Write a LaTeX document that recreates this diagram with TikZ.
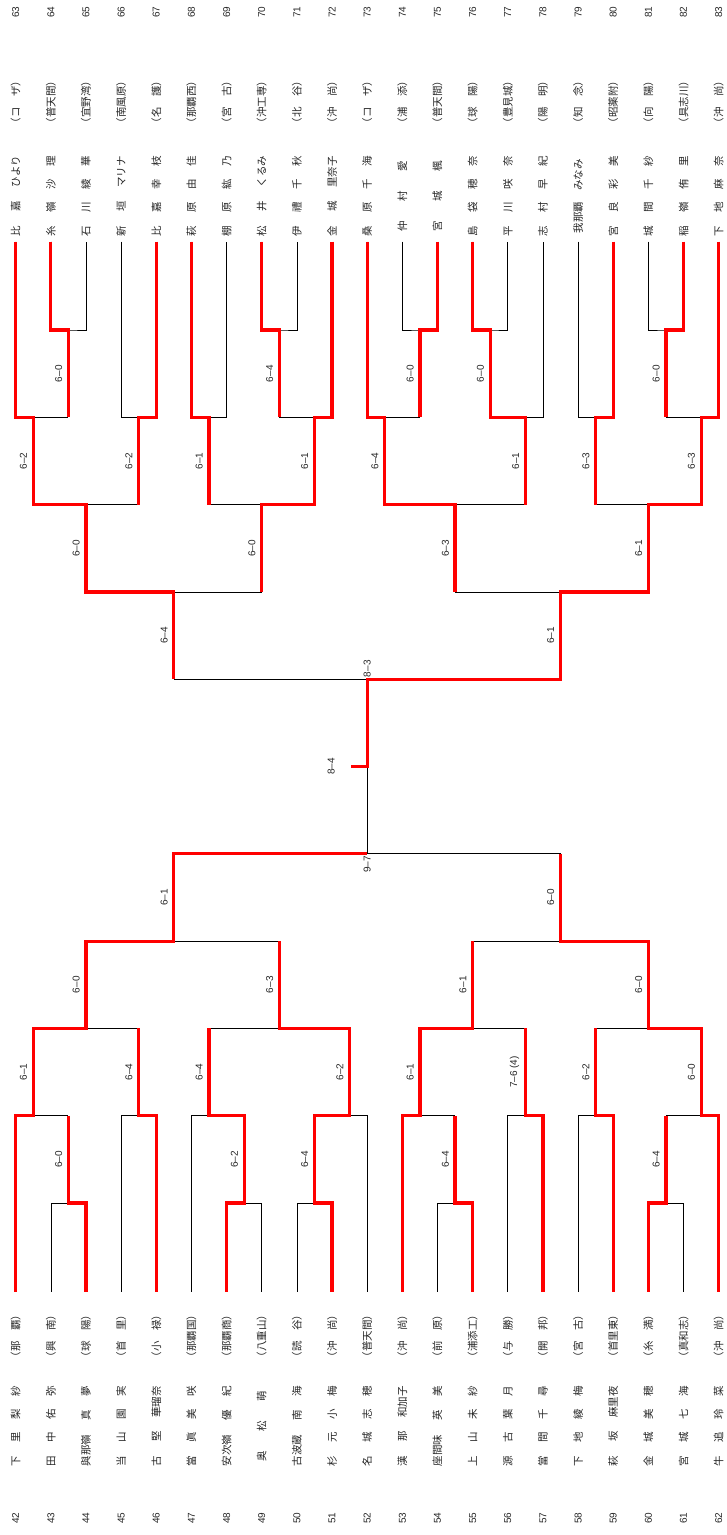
\documentclass[tikz,border=0pt]{standalone}
\usepackage{fontspec}
\setmainfont{Liberation Sans}
\newfontfamily\jp{Noto Sans CJK JP}

\newcommand\pname[1]{\makebox[80pt][s]{#1}}

\begin{document}
\begin{tikzpicture}[
  x=1pt, y=-1pt,
  every node/.style={text=black!85},
  num/.style={rotate=90, inner sep=0pt, font=\fontsize{10}{12}\selectfont},
  school/.style={rotate=90, inner sep=0pt, font=\jp\fontsize{10.5}{12}\selectfont},
  player/.style={school},
  score/.style={rotate=90, anchor=south, inner xsep=1pt, inner ysep=4.6pt, font=\fontsize{10}{12}\selectfont, text=black!85},
  bracket/.style={line width=0.7pt},
  winner/.style={line width=3.2pt, red}
]
\useasboundingbox (0,0) rectangle (726,1535);

\foreach \n/\nm/\sc [count=\i from 0] in {
  63/{比\hfil 嘉\hfil ひより}/{コ　ザ},
  64/{糸\hfil 嶺\hfil 沙\hfil 理}/{普天間},
  65/{石\hfil 川\hfil 綾\hfil 華}/{宜野湾},
  66/{新\hfil 垣\hfil マリナ}/{南風原},
  67/{比\hfil 嘉\hfil 幸\hfil 枝}/{名　護},
  68/{萩\hfil 原\hfil 由\hfil 佳}/{那覇西},
  69/{棚\hfil 原\hfil 紘\hfil 乃}/{宮　古},
  70/{松\hfil 井\hfil くるみ}/{沖工専},
  71/{伊\hfil 禮\hfil 千\hfil 秋}/{北　谷},
  72/{金\hfil 城\hfil 里奈子}/{沖　尚},
  73/{桑\hfil 原\hfil 千\hfil 海}/{コ　ザ},
  74/{\hspace{5pt}仲\hfil 村\hfil 愛\hspace{5pt}}/{浦　添},
  75/{\hspace{5pt}宮\hfil 城\hfil 楓\hspace{5pt}}/{普天間},
  76/{島\hfil 袋\hfil 穂\hfil 奈}/{球　陽},
  77/{平\hfil 川\hfil 咲\hfil 奈}/{豊見城},
  78/{志\hfil 村\hfil 早\hfil 紀}/{陽　明},
  79/{\hspace{3pt}我那覇\hfil みなみ\hspace{3pt}}/{知　念},
  80/{宮\hfil 良\hfil 彩\hfil 美}/{昭薬附},
  81/{城\hfil 間\hfil 千\hfil 紗}/{向　陽},
  82/{稲\hfil 嶺\hfil 侑\hfil 里}/{具志川},
  83/{下\hfil 地\hfil 麻\hfil 奈}/{沖　尚}}{
  \pgfmathsetmacro\xx{15.7+35.15*\i}
  \node[num] (n\n) at (\xx,12) {\n};
  \node[school] (s\n) at (\xx,102) {（\sc）};
  \node[player] (p\n) at (\xx,196) {\pname{\nm}};
  \coordinate (e\n) at (\xx,241.7);
}

\foreach \n/\nm/\sc [count=\i from 0] in {
  42/{下\hfil 里\hfil 梨\hfil 紗}/{那　覇},
  43/{田\hfil 中\hfil 佑\hfil 弥}/{興　南},
  44/{與那嶺\hfil 真\hfil 夢}/{球　陽},
  45/{当\hfil 山\hfil 園\hfil 実}/{首　里},
  46/{古\hfil 堅\hfil 華瑠奈}/{小　禄},
  47/{當\hfil 眞\hfil 美\hfil 咲}/{那覇国},
  48/{安次嶺\hfil 優\hfil 紀}/{那覇商},
  49/{\hspace{5pt}奥\hfil 松\hfil 萌\hspace{5pt}}/{八重山},
  50/{古波蔵\hfil 南\hfil 海}/{読　谷},
  51/{杉\hfil 元\hfil 小\hfil 梅}/{沖　尚},
  52/{名\hfil 城\hfil 志\hfil 穂}/{普天間},
  53/{漢\hfil 那\hfil 和加子}/{沖　尚},
  54/{座間味\hfil 英\hfil 美}/{前　原},
  55/{上\hfil 山\hfil 未\hfil 紗}/{浦添工},
  56/{源\hfil 古\hfil 葉\hfil 月}/{与　勝},
  57/{當\hfil 間\hfil 千\hfil 尋}/{開　邦},
  58/{下\hfil 地\hfil 綾\hfil 梅}/{宮　古},
  59/{萩\hfil 坂\hfil 麻里夜}/{首里東},
  60/{金\hfil 城\hfil 美\hfil 穂}/{糸　満},
  61/{宮\hfil 城\hfil 七\hfil 海}/{真和志},
  62/{牛\hfil 追\hfil 玲\hfil 菜}/{沖　尚}}{
  \pgfmathsetmacro\xx{15.7+35.15*\i}
  \node[school] (s\n) at (\xx,1336) {（\sc）};
  \node[player] (p\n) at (\xx,1426) {\pname{\nm}};
  \node[num] (n\n) at (\xx,1518) {\n};
  \coordinate (e\n) at (\xx,1291.7);
}

\foreach \m/\h/\k in {t1/1.5/0, t2/7.5/0, t3/11.5/0, t4/13.5/0, t5/18.5/0,
  t6/0.5/1, t7/3.5/1, t8/5.5/1, t9/8.5/1, t10/10.5/1, t11/14.5/1, t12/16.5/1, t13/19.5/1,
  t14/2/2, t15/7/2, t16/12.5/2, t17/18/2, t18/4.5/3, t19/15.5/3, t20/10/4}{
  \coordinate (\m) at ({15.7+35.15*\h},{330+87.3*\k});
  \coordinate (\m o) at ({15.7+35.15*\h},{417.3+87.3*\k});
}
\foreach \m/\h/\k in {b1/1.5/0, b2/6.5/0, b3/8.5/0, b4/12.5/0, b5/18.5/0,
  b6/0.5/1, b7/3.5/1, b8/5.5/1, b9/9.5/1, b10/11.5/1, b11/14.5/1, b12/16.5/1, b13/19.5/1,
  b14/2/2, b15/7.5/2, b16/13/2, b17/18/2, b18/4.5/3, b19/15.5/3, b20/10/4}{
  \coordinate (\m) at ({15.7+35.15*\h},{1203-87.3*\k});
  \coordinate (\m o) at ({15.7+35.15*\h},{1115.7-87.3*\k});
}
\coordinate (tick) at (350.5,766.5);

\draw[bracket] (e64) |- (t1) -| (e65);
\draw[bracket] (e70) |- (t2) -| (e71);
\draw[bracket] (e74) |- (t3) -| (e75);
\draw[bracket] (e76) |- (t4) -| (e77);
\draw[bracket] (e81) |- (t5) -| (e82);
\draw[bracket] (e63) |- (t6) -| (t1o);
\draw[bracket] (e66) |- (t7) -| (e67);
\draw[bracket] (e68) |- (t8) -| (e69);
\draw[bracket] (t2o) -- (t9) -| (e72);
\draw[bracket] (e73) |- (t10) -| (t3o);
\draw[bracket] (t4o) -- (t11) -| (e78);
\draw[bracket] (e79) |- (t12) -| (e80);
\draw[bracket] (t5o) -- (t13) -| (e83);
\draw[bracket] (t6o) -- (t7o);
\draw[bracket] (t8o) -- (t9o);
\draw[bracket] (t10o) -- (t11o);
\draw[bracket] (t12o) -- (t13o);
\draw[bracket] (t14o) -- (t15o);
\draw[bracket] (t16o) -- (t17o);
\draw[bracket] (t18o) -- (t19o);

\draw[bracket] (e43) |- (b1) -| (e44);
\draw[bracket] (e48) |- (b2) -| (e49);
\draw[bracket] (e50) |- (b3) -| (e51);
\draw[bracket] (e54) |- (b4) -| (e55);
\draw[bracket] (e60) |- (b5) -| (e61);
\draw[bracket] (e42) |- (b6) -| (b1o);
\draw[bracket] (e45) |- (b7) -| (e46);
\draw[bracket] (e47) |- (b8) -| (b2o);
\draw[bracket] (b3o) -- (b9) -| (e52);
\draw[bracket] (e53) |- (b10) -| (b4o);
\draw[bracket] (e56) |- (b11) -| (e57);
\draw[bracket] (e58) |- (b12) -| (e59);
\draw[bracket] (b5o) -- (b13) -| (e62);
\draw[bracket] (b6o) -- (b7o);
\draw[bracket] (b8o) -- (b9o);
\draw[bracket] (b10o) -- (b11o);
\draw[bracket] (b12o) -- (b13o);
\draw[bracket] (b14o) -- (b15o);
\draw[bracket] (b16o) -- (b17o);
\draw[bracket] (b18o) -- (b19o);
\draw[bracket] (b20) -- (b20o);

\draw[winner] (e64) |- (t1) -- node[score] {6--0} (t1o);
\draw[winner] (e63) |- (t6) -- node[score] {6--2} (t6o) -- (t14) -- node[score] {6--0} (t14o) -- (t18) -- node[score] {6--4} (t18o);
\draw[winner] (e67) |- (t7) -- node[score] {6--2} (t7o);
\draw[winner] (e68) |- (t8) -- node[score] {6--1} (t8o);
\draw[winner] (e70) |- (t2) -- node[score] {6--4} (t2o);
\draw[winner] (e72) |- (t9) -- node[score] {6--1} (t9o) -- (t15) -- node[score] {6--0} (t15o);
\draw[winner] (e75) |- (t3) -- node[score] {6--0} (t3o);
\draw[winner] (e73) |- (t10) -- node[score] {6--4} (t10o) -- (t16) -- node[score] {6--3} (t16o);
\draw[winner] (e76) |- (t4) -- node[score] {6--0} (t4o) -- (t11) -- node[score] {6--1} (t11o);
\draw[winner] (e80) |- (t12) -- node[score] {6--3} (t12o);
\draw[winner] (e82) |- (t5) -- node[score] {6--0} (t5o);
\draw[winner] (e83) |- (t13) -- node[score] {6--3} (t13o) -- (t17) -- node[score] {6--1} (t17o) -- (t19) -- node[score] {6--1} (t19o) -- (t20) -- (t20o) -- (tick);

\draw[winner] (e44) |- (b1) -- node[score] {6--0} (b1o);
\draw[winner] (e42) |- (b6) -- node[score] {6--1} (b6o) -- (b14) -- node[score] {6--0} (b14o) -- (b18) -- node[score] {6--1} (b18o) -- (b20);
\draw[winner] (e46) |- (b7) -- node[score] {6--4} (b7o);
\draw[winner] (e48) |- (b2) -- node[score] {6--2} (b2o) -- (b8) -- node[score] {6--4} (b8o);
\draw[winner] (e51) |- (b3) -- node[score] {6--4} (b3o) -- (b9) -- node[score] {6--2} (b9o) -- (b15) -- node[score] {6--3} (b15o);
\draw[winner] (e55) |- (b4) -- node[score] {6--4} (b4o);
\draw[winner] (e53) |- (b10) -- node[score] {6--1} (b10o) -- (b16) -- node[score] {6--1} (b16o);
\draw[winner] (e57) |- (b11) -- node[score] {7--6 (4)} (b11o);
\draw[winner] (e59) |- (b12) -- node[score] {6--2} (b12o);
\draw[winner] (e60) |- (b5) -- node[score] {6--4} (b5o);
\draw[winner] (e62) |- (b13) -- node[score] {6--0} (b13o) -- (b17) -- node[score] {6--0} (b17o) -- (b19) -- node[score] {6--0} (b19o);

\node[score, anchor=west, inner xsep=2pt] (semitop) at (t20) {8--3};
\node[score, anchor=east, inner xsep=2pt] (semibot) at (b20) {9--7};
\node[score] (final) at ([xshift=-11pt]tick) {8--4};

\end{tikzpicture}
\end{document}
